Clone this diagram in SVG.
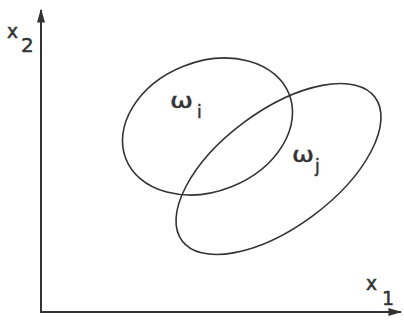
<svg xmlns="http://www.w3.org/2000/svg" width="404" height="320" viewBox="0 0 404 320">
<style>
.ax{stroke:#333;stroke-width:2;fill:none}
.el{stroke:#333;stroke-width:1.6;fill:none}
.t{font-family:"DejaVu Sans",sans-serif;fill:#333;stroke:#333;stroke-width:0.5}
</style>
<defs>
<marker id="ah" viewBox="0 0 10 10" refX="9" refY="5" markerWidth="14" markerHeight="8" orient="auto" markerUnits="userSpaceOnUse" preserveAspectRatio="none">
<path d="M0,0 L10,5 L0,10 z" fill="#333"/>
</marker>
</defs>
<rect width="404" height="320" fill="#fff"/>
<g id="axes">
<line class="ax" x1="41" y1="312" x2="41" y2="10" marker-end="url(#ah)"/>
<line class="ax" x1="40" y1="312" x2="401" y2="312" marker-end="url(#ah)"/>
</g>
<g id="omega_i">
<ellipse class="el" cx="207.5" cy="126.5" rx="87.8" ry="64.9" transform="rotate(-21.7 207.5 126.5)"/>
<text class="t" x="170" y="108" font-size="22" textLength="23" lengthAdjust="spacingAndGlyphs">ω</text>
<text class="t" x="197" y="118" font-size="17">i</text>
</g>
<g id="omega_j">
<ellipse class="el" cx="278.5" cy="169" rx="120.2" ry="58" transform="rotate(-36.6 278.5 169)"/>
<text class="t" x="292" y="162" font-size="22" textLength="22" lengthAdjust="spacingAndGlyphs">ω</text>
<text class="t" x="315" y="172" font-size="17">j</text>
</g>
<g id="labels">
<text class="t" x="7" y="38" font-size="19" textLength="11" lengthAdjust="spacingAndGlyphs">x</text>
<text class="t" x="21" y="52" font-size="20">2</text>
<text class="t" x="366" y="290" font-size="19" textLength="11" lengthAdjust="spacingAndGlyphs">x</text>
<text class="t" x="382" y="305" font-size="19">1</text>
</g>
</svg>
